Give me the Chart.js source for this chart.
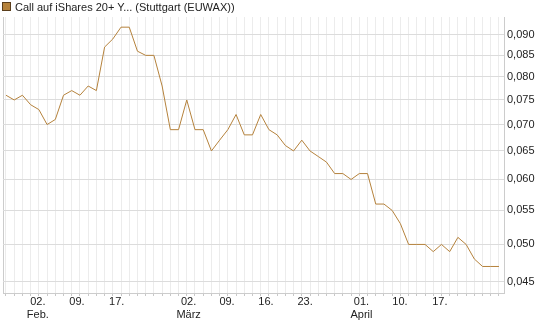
<!DOCTYPE html>
<html><head><meta charset="utf-8">
<script src="https://cdn.jsdelivr.net/npm/chart.js@4.4.0/dist/chart.umd.min.js"></script>
<style>
html,body{margin:0;padding:0;background:#fff;}
#wrap{position:relative;width:545px;height:327px;overflow:hidden;}
canvas{position:absolute;left:0;top:0;}
#legend{position:absolute;left:2px;top:0px;height:13px;line-height:13px;font:11px "Liberation Sans",Arial,sans-serif;color:#222;display:flex;align-items:center;white-space:nowrap;}
#legend .box{width:7px;height:7px;background:#b5823c;border:1px solid #5a3e1c;margin-right:4px;}
</style></head><body>
<div id="wrap"><canvas id="c" width="545" height="327"></canvas>
<div id="legend"><span class="box"></span><span id="ltxt"></span></div></div>
<script>
const seriesName = 'Call auf iShares 20+ Y... (Stuttgart (EUWAX))';
const prices = [
  0.076, 0.075, 0.076, 0.074, 0.073, 0.070, 0.071, 0.076, 0.077, 0.076,
  0.078, 0.077, 0.087, 0.089, 0.092, 0.092, 0.086, 0.085, 0.085, 0.078,
  0.069, 0.069, 0.075, 0.069, 0.069, 0.065, 0.067, 0.069, 0.072, 0.068,
  0.068, 0.072, 0.069, 0.068, 0.066, 0.065, 0.067, 0.065, 0.064, 0.063,
  0.061, 0.061, 0.060, 0.061, 0.061, 0.056, 0.056, 0.055, 0.053, 0.050,
  0.050, 0.050, 0.049, 0.050, 0.049, 0.051, 0.050, 0.048, 0.047, 0.047,
  0.047
];
const xTickAt = [3.87, 8.64, 13.47, 22.23, 26.9, 31.64, 36.4, 43.26, 47.95, 52.8];
const xTickDay = ['02.', '09.', '17.', '02.', '09.', '16.', '23.', '01.', '10.', '17.'];
const xTickMonth = ['Feb.', '', '', 'März', '', '', '', 'April', '', ''];
const yTicks = [0.045, 0.050, 0.055, 0.060, 0.065, 0.070, 0.075, 0.080, 0.085, 0.090];
const xMin = -0.365, xMax = 60.61;
const yMin = 0.043628, yMax = 0.094663;

document.getElementById('ltxt').textContent = seriesName;

const FONT = {family: '"Liberation Sans", Arial, sans-serif', size: 11};
const lineColor = '#b5823c';

new Chart(document.getElementById('c'), {
  type: 'line',
  data: {
    datasets: [{
      label: seriesName,
      data: prices.map((v, i) => ({x: i, y: v})),
      borderColor: lineColor,
      borderWidth: 1,
      pointRadius: 0,
      tension: 0,
      fill: false
    }]
  },
  options: {
    responsive: false,
    devicePixelRatio: 1,
    animation: false,
    layout: {padding: {left: 3, top: 17, right: 0, bottom: 0}},
    plugins: {legend: {display: false}, tooltip: {enabled: false}},
    scales: {
      x: {
        type: 'linear',
        min: xMin, max: xMax,
        afterBuildTicks: (s) => {
          const t = [{value: xMin}];
          for (let i = 0; i < prices.length; i++) t.push({value: i});
          xTickAt.forEach(v => t.push({value: v}));
          t.sort((a, b) => a.value - b.value);
          s.ticks = t;
        },
        afterFit: (s) => { s.height = 34; },
        grid: {
          color: (ctx) => {
            const v = ctx.tick ? ctx.tick.value : 0;
            if (v === xMin) return '#cccccc';
            return Number.isInteger(v) ? '#ececec' : 'rgba(0,0,0,0)';
          },
          tickColor: (ctx) => {
            const v = ctx.tick ? ctx.tick.value : 0;
            return Number.isInteger(v) ? '#c8c8c8' : 'rgba(0,0,0,0)';
          },
          tickLength: 3,
          lineWidth: 1
        },
        border: {display: true, color: '#cccccc'},
        ticks: {
          autoSkip: false, maxRotation: 0, minRotation: 0,
          padding: -1,
          color: '#222',
          font: FONT,
          callback: (v) => {
            const k = xTickAt.indexOf(v);
            if (k < 0) return '';
            return xTickMonth[k] ? [xTickDay[k], xTickMonth[k]] : xTickDay[k];
          }
        }
      },
      y: {
        type: 'logarithmic',
        position: 'right',
        min: yMin, max: yMax,
        afterBuildTicks: (s) => { s.ticks = yTicks.map(v => ({value: v})); },
        afterFit: (s) => { s.width = 41; },
        grid: {color: '#dcdcdc', drawTicks: false, lineWidth: 1},
        border: {display: true, color: '#cccccc'},
        ticks: {
          padding: 3,
          color: '#222',
          font: FONT,
          callback: (v) => Number(v).toFixed(3).replace('.', ',')
        }
      }
    }
  }
});
</script>
</body></html>
